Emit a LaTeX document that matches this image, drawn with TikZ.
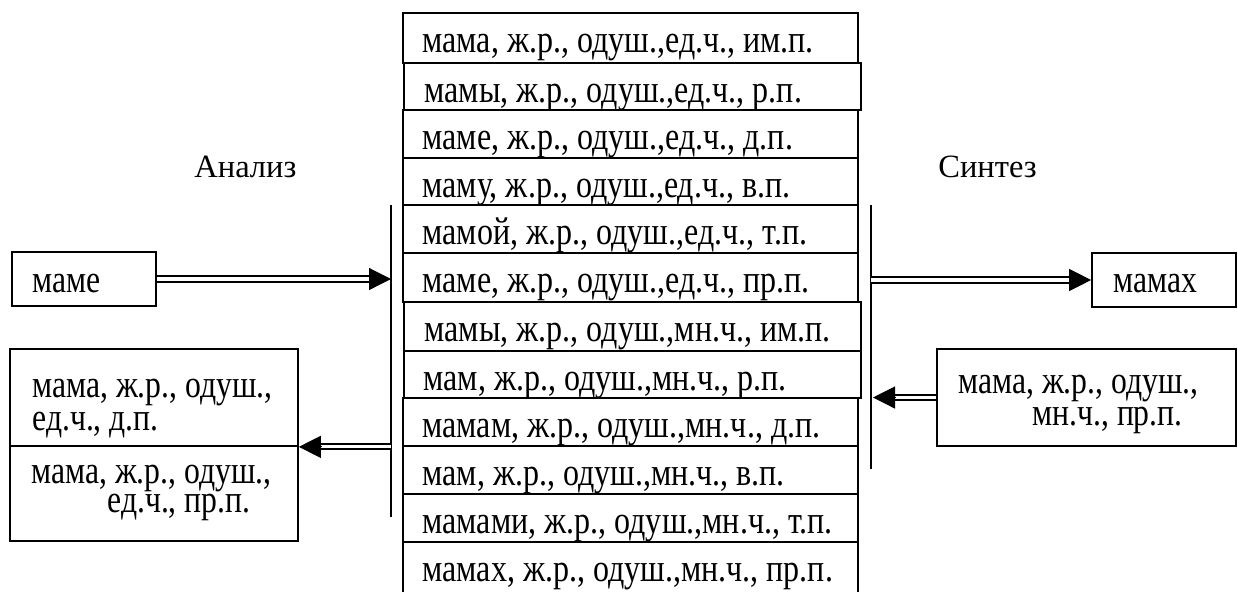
\documentclass[tikz,border=0pt]{standalone}
\usepackage{fontspec}
\usepackage{graphicx}
\setmainfont{Liberation Serif}
\usetikzlibrary{fit,calc,arrows.meta}
\newcommand{\rowt}[1]{\scalebox{0.985}[1.2]{#1}}
\newcommand{\tallt}[1]{\scalebox{0.975}[1.2]{#1}}
\newcommand{\twolines}[4]{\makebox[0pt][l]{\hspace*{#3}\raisebox{-#4}{\tallt{#2}}}\tallt{#1}}
\begin{document}
\begin{tikzpicture}[x=0.5pt,y=-0.5pt,
  box/.style={draw, line width=0.85pt, inner sep=0pt, fit={#1}},
  txt/.style={anchor=base west, inner sep=0pt, font=\fontsize{16.25pt}{19pt}\selectfont},
  bar/.style={line width=0.9pt},
  dbl/.style={double, double distance=1.6pt, line width=1pt, shorten >=10pt},
  head/.style={-{Triangle[length=11pt,width=11pt]}, line width=0.6pt}]
\useasboundingbox (0,0) rectangle (1238,591);
% stack of word forms
\node[box={(403,13) (858,63)}] (r1) {};
\node[box={(404,63) (861,110)}] (r2) {};
\node[box={(403,110) (858,158)}] (r3) {};
\node[box={(403,158) (858,205)}] (r4) {};
\node[box={(403,205) (858,253)}] (r5) {};
\node[box={(403,253) (858,302)}] (r6) {};
\node[box={(404,302) (861,351)}] (r7) {};
\node[box={(404,351) (861,398)}] (r8) {};
\node[box={(403,398) (858,446)}] (r9) {};
\node[box={(403,446) (858,494)}] (r10) {};
\node[box={(403,494) (858,542)}] (r11) {};
\node[box={(403,542) (858,610)}] (r12) {};
\node[txt] at ($(r1.north west)+(20,40)$) {\rowt{мама, ж.р., одуш.,ед.ч., им.п.}};
\node[txt] at ($(r2.north west)+(21,40)$) {\rowt{мамы, ж.р., одуш.,ед.ч., р.п.}};
\node[txt] at ($(r3.north west)+(20,40)$) {\rowt{маме, ж.р., одуш.,ед.ч., д.п.}};
\node[txt] at ($(r4.north west)+(20,40)$) {\rowt{маму, ж.р., одуш.,ед.ч., в.п.}};
\node[txt] at ($(r5.north west)+(20,40)$) {\rowt{мамой, ж.р., одуш.,ед.ч., т.п.}};
\node[txt] at ($(r6.north west)+(20,40)$) {\rowt{маме, ж.р., одуш.,ед.ч., пр.п.}};
\node[txt] at ($(r7.north west)+(21,40)$) {\rowt{мамы, ж.р., одуш.,мн.ч., им.п.}};
\node[txt] at ($(r8.north west)+(20,40)$) {\rowt{мам, ж.р., одуш.,мн.ч., р.п.}};
\node[txt] at ($(r9.north west)+(20,40)$) {\rowt{мамам, ж.р., одуш.,мн.ч., д.п.}};
\node[txt] at ($(r10.north west)+(20,40)$) {\rowt{мам, ж.р., одуш.,мн.ч., в.п.}};
\node[txt] at ($(r11.north west)+(20,40)$) {\rowt{мамами, ж.р., одуш.,мн.ч., т.п.}};
\node[txt] at ($(r12.north west)+(20,40)$) {\rowt{мамах, ж.р., одуш.,мн.ч., пр.п.}};
% titles
\node[txt] (an) at (194,177) {Анализ};
\node[txt] (sy) at (938,177) {Синтез};
% bars
\coordinate (lbT) at (391,205);
\coordinate (lbB) at (391,517);
\coordinate (rbT) at (871,205);
\coordinate (rbB) at (871,469);
\draw[bar] (lbT) -- (lbB);
\draw[bar] (rbT) -- (rbB);
% left side boxes
\node[box={(12,252) (156,306)}] (mame) {};
\node[txt] at (32,292) {\tallt{маме}};
\node[box={(10,349) (298,446)}] (bl1) {};
\node[box={(10,446) (298,541)}] (bl2) {};
\node[txt] at (32,397) {\twolines{мама, ж.р., одуш.,}{ед.ч., д.п.}{0pt}{16.5pt}};
\node[txt] at (31,483) {\twolines{мама, ж.р., одуш.,}{ед.ч., пр.п.}{38pt}{14.5pt}};
% right side boxes
\node[box={(1092,253) (1236,307)}] (mamax) {};
\node[txt] at (1113,292) {\tallt{мамах}};
\node[box={(937,349) (1236,446)}] (br) {};
\node[txt] at (958,393) {\twolines{мама, ж.р., одуш.,}{мн.ч., пр.п.}{37pt}{16pt}};
% arrow end points on the bars
\coordinate (la) at (lbT |- mame.east);
\coordinate (lo) at (lbT |- bl1.south east);
\coordinate (ra) at (rbT |- mamax.west);
\coordinate (rin) at ($(rbT |- br.west)+(2,0)$);
% arrows
\draw[dbl] (mame.east) -- (la);
\draw[head] ($(la)!11pt!(mame.east)$) -- (la);
\draw[dbl] (lo) -- (bl1.south east);
\draw[head] ($(bl1.south east)!11pt!(lo)$) -- (bl1.south east);
\draw[dbl] (ra) -- (mamax.west);
\draw[head] ($(mamax.west)!11pt!(ra)$) -- (mamax.west);
\draw[dbl] (br.west) -- (rin);
\draw[head] ($(rin)!11pt!(br.west)$) -- (rin);
\end{tikzpicture}
\end{document}
